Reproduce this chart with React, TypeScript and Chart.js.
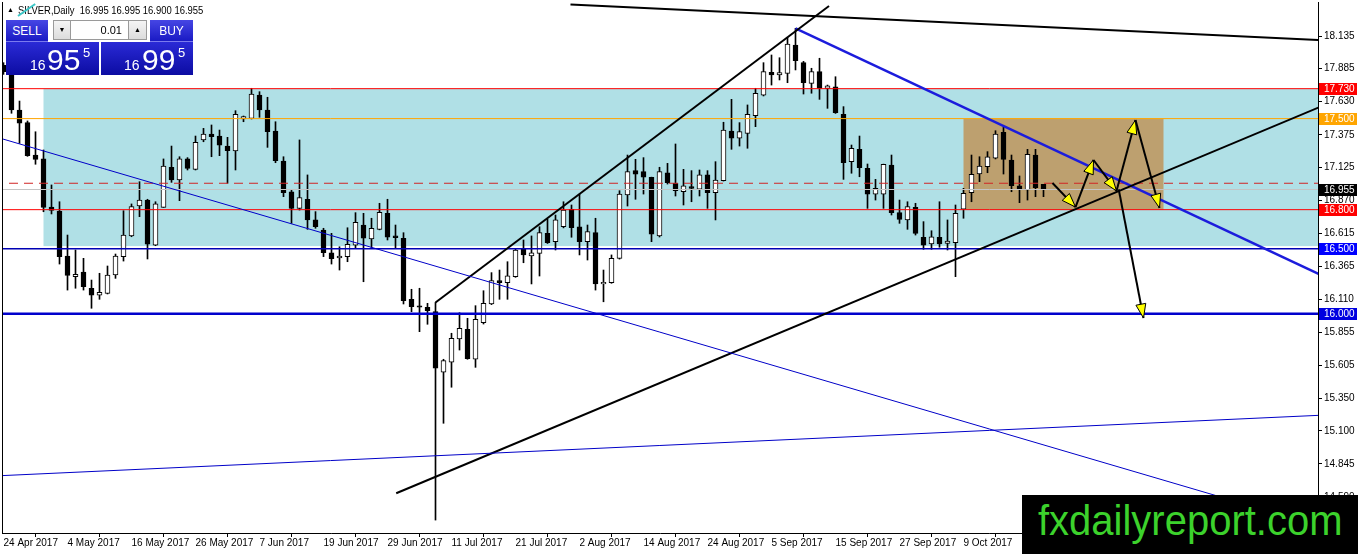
import React, { useEffect, useRef } from "react";
import { Chart, registerables } from "chart.js";

Chart.register(...registerables);

// ---------- DATA ----------
const dateLabels = [
  "24 Apr 2017", "4 May 2017", "16 May 2017", "26 May 2017", "7 Jun 2017",
  "19 Jun 2017", "29 Jun 2017", "11 Jul 2017", "21 Jul 2017", "2 Aug 2017",
  "14 Aug 2017", "24 Aug 2017", "5 Sep 2017", "15 Sep 2017", "27 Sep 2017", "9 Oct 2017",
];

const priceTicks = [
  18.135, 17.885, 17.63, 17.375, 17.125, 16.87, 16.615, 16.365,
  16.11, 15.855, 15.605, 15.35, 15.1, 14.845, 14.59,
];

const opens = [
  17.91, 17.84, 17.566, 17.469, 17.22, 17.19, 16.82, 16.79, 16.444, 16.285,
  16.321, 16.196, 16.142, 16.157, 16.298, 16.439, 16.598, 16.828, 16.874, 16.528,
  16.818, 17.126, 17.028, 17.19, 17.11, 17.336, 17.382, 17.366, 17.289, 17.251,
  17.497, 17.502, 17.681, 17.566, 17.405, 17.174, 16.938, 16.81, 16.88, 16.721,
  16.644, 16.469, 16.429, 16.439, 16.528, 16.682, 16.575, 16.649, 16.772, 16.598,
  16.58, 16.111, 16.06, 16.049, 16.016, 15.55, 15.627, 15.806, 15.88, 15.65,
  15.931, 16.075, 16.254, 16.239, 16.285, 16.503, 16.444, 16.464, 16.618, 16.554,
  16.669, 16.803, 16.669, 16.554, 16.623, 16.229, 16.239, 16.426, 16.913, 17.1,
  17.092, 17.049, 16.598, 17.084, 17.003, 16.938, 16.977, 16.957, 17.067, 16.93,
  17.023, 17.405, 17.349, 17.387, 17.522, 17.681, 17.856, 17.835, 17.848, 18.066,
  17.93, 17.771, 17.861, 17.733, 17.745, 17.533, 17.169, 17.264, 17.118, 16.92,
  16.92, 17.143, 16.777, 16.721, 16.818, 16.588, 16.536, 16.588, 16.541, 16.546,
  16.803, 16.93, 17.074, 17.13, 17.195, 17.395, 17.182, 16.984, 16.951, 17.22,
  16.995,
];
const highs = [
  17.93, 17.88, 17.635, 17.482, 17.399, 17.259, 16.99, 16.861, 16.605, 16.49,
  16.426, 16.259, 16.311, 16.367, 16.459, 16.792, 16.844, 17.015, 16.88, 16.861,
  17.19, 17.289, 17.207, 17.2, 17.366, 17.425, 17.451, 17.412, 17.356, 17.561,
  17.52, 17.733, 17.707, 17.664, 17.476, 17.207, 16.951, 17.336, 17.067, 16.785,
  16.657, 16.618, 16.515, 16.661, 16.777, 16.772, 16.734, 16.849, 16.88, 16.682,
  16.623, 16.188, 16.196, 16.08, 16.087, 15.65, 15.85, 16.008, 15.965, 16.062,
  16.177, 16.316, 16.336, 16.4, 16.503, 16.567, 16.598, 16.669, 16.726, 16.759,
  16.861, 16.836, 16.92, 16.682, 16.734, 16.336, 16.452, 16.946, 17.22, 17.187,
  17.2, 17.05, 17.126, 17.156, 17.305, 17.11, 17.1, 17.105, 17.1, 17.169,
  17.472, 17.648, 17.469, 17.605, 17.733, 17.93, 17.989, 17.968, 18.125, 18.194,
  17.94, 17.887, 17.964, 17.758, 17.822, 17.592, 17.297, 17.366, 17.151, 17.033,
  17.15, 17.22, 16.874, 16.861, 16.849, 16.708, 16.638, 16.861, 16.721, 16.836,
  16.964, 17.22, 17.207, 17.246, 17.407, 17.433, 17.22, 17.059, 17.264, 17.264,
  16.995,
];
const lows = [
  17.84, 17.541, 17.31, 17.21, 17.149, 16.784, 16.767, 16.382, 16.182, 16.196,
  16.182, 16.042, 16.111, 16.152, 16.272, 16.405, 16.592, 16.746, 16.421, 16.523,
  16.818, 17.01, 16.869, 17.105, 17.105, 17.322, 17.207, 17.215, 17.003, 17.105,
  17.476, 17.497, 17.51, 17.279, 17.161, 16.9, 16.695, 16.797, 16.649, 16.657,
  16.439, 16.382, 16.336, 16.4, 16.503, 16.246, 16.503, 16.645, 16.567, 16.503,
  16.075, 16.016, 15.862, 15.919, 14.414, 15.158, 15.435, 15.721, 15.65, 15.588,
  15.921, 16.07, 16.111, 16.111, 16.28, 16.392, 16.229, 16.29, 16.54, 16.49,
  16.66, 16.588, 16.452, 16.413, 16.182, 16.092, 16.234, 16.42, 16.828, 16.88,
  16.92, 16.554, 16.59, 16.997, 16.905, 16.836, 16.861, 16.905, 16.81, 16.721,
  17.02, 17.264, 17.289, 17.272, 17.438, 17.674, 17.758, 17.797, 17.776, 17.874,
  17.689, 17.695, 17.648, 17.579, 17.54, 17.033, 17.08, 17.053, 16.81, 16.874,
  16.81, 16.759, 16.695, 16.649, 16.605, 16.495, 16.495, 16.511, 16.49, 16.285,
  16.734, 16.861, 17.015, 17.084, 17.19, 17.074, 16.938, 16.854, 16.874, 16.9,
  16.9,
];
const closes = [
  17.86, 17.566, 17.464, 17.215, 17.187, 16.818, 16.795, 16.439, 16.295, 16.303,
  16.208, 16.142, 16.165, 16.298, 16.444, 16.605, 16.823, 16.874, 16.534, 16.844,
  17.136, 17.028, 17.19, 17.118, 17.318, 17.382, 17.361, 17.295, 17.253, 17.533,
  17.515, 17.689, 17.566, 17.399, 17.176, 16.93, 16.81, 16.892, 16.721, 16.669,
  16.469, 16.423, 16.444, 16.534, 16.703, 16.58, 16.657, 16.78, 16.588, 16.585,
  16.1, 16.054, 16.05, 16.023, 15.581, 15.639, 15.811, 15.888, 15.654, 15.957,
  16.08, 16.254, 16.239, 16.292, 16.49, 16.452, 16.469, 16.623, 16.546, 16.721,
  16.797, 16.661, 16.554, 16.631, 16.229, 16.242, 16.426, 16.92, 17.092, 17.072,
  17.049, 16.611, 17.092, 17.007, 16.946, 16.984, 16.964, 17.067, 16.93, 17.028,
  17.412, 17.349, 17.4, 17.533, 17.695, 17.861, 17.835, 17.853, 18.073, 17.945,
  17.776, 17.861, 17.733, 17.751, 17.545, 17.161, 17.272, 17.123, 16.92, 16.964,
  17.149, 16.777, 16.726, 16.823, 16.618, 16.528, 16.592, 16.536, 16.559, 16.772,
  16.926, 17.072, 17.136, 17.207, 17.382, 17.187, 16.984, 16.957, 17.226, 16.969,
  16.955,
];

// horizontal levels: resistance 17.730, 17.500, pending 17.003, bid 16.955, 16.800, 16.500, 16.000
const horizontalLevels = [17.73, 17.5, 17.003, 16.955, 16.8, 16.5, 16.0];
// price tags on the axis
const priceTags = [17.73, 17.5, 16.955, 16.8, 16.5, 16.0];
const priceTagText = ["17.730", "17.500", "16.955", "16.800", "16.500", "16.000"];

// trend lines [barStart, priceStart, barEnd, priceEnd]
const trendTop = [70.875, 18.377, 164.4, 18.104];
const channelUpper = [54, 16.087, 103.19, 18.366];
const channelLower = [49.09, 14.62, 164.4, 17.586];
const blueResistance = [99, 18.194, 164.4, 16.305];
const thinBlueDown = [-0.4, 17.349, 164.4, 14.37];
const thinBlueUp = [-0.4, 14.755, 164.4, 15.219];

// zones [barStart, barEnd, priceLow, priceHigh]
const rangeZone = [5, 164.4, 16.52, 17.73];
const targetZone = [120, 145, 16.8, 17.5];

// projected path arrows [barStart, priceStart, barEnd, priceEnd]
const arrowPaths = [
  [131.125, 17.005, 134, 16.82],
  [134, 16.82, 136.25, 17.182],
  [136.25, 17.182, 139.125, 16.944],
  [139.125, 16.944, 141.5, 17.489],
  [141.5, 17.489, 144.5, 16.813],
  [139.4, 16.957, 142.5, 15.967],
];

// ---------- STYLES ----------
const FONT = '"Liberation Sans", Arial, sans-serif';
const levelStyles = [
  { color: "#ff0000", width: 1, dash: [] as number[] },
  { color: "#ffa500", width: 1, dash: [] as number[] },
  { color: "#d02424", width: 1, dash: [9, 6] },
  { color: "#c4c4c4", width: 1, dash: [] as number[] },
  { color: "#ff0000", width: 1, dash: [] as number[] },
  { color: "#0000b4", width: 1.5, dash: [] as number[] },
  { color: "#0000cc", width: 2.5, dash: [] as number[] },
];
const tagColors = ["#ff0000", "#ffa500", "#000000", "#ff0000", "#0000ff", "#0000e0"];

const X_MIN = (2 - 3.5) / 8;
const X_MAX = (1318 - 3.5) / 8;
const pxToPrice = (y: number) => 18.135 - (y - 36) * 0.007687;
const Y_MAX = pxToPrice(2);
const Y_MIN = pxToPrice(533);

function seg(s: number[]) {
  return [
    { x: s[0], y: s[1] },
    { x: s[2], y: s[3] },
  ];
}

const zonePlugin = {
  id: "zones",
  beforeDatasetsDraw(chart: any) {
    const { ctx, chartArea, scales } = chart;
    const x = scales.x;
    const y = scales.y;
    ctx.save();
    ctx.beginPath();
    ctx.rect(chartArea.left, chartArea.top, chartArea.right - chartArea.left, chartArea.bottom - chartArea.top);
    ctx.clip();
    const draw = (z: number[], color: string) => {
      const x0 = x.getPixelForValue(z[0]);
      const x1 = x.getPixelForValue(z[1]);
      const y0 = y.getPixelForValue(z[3]);
      const y1 = y.getPixelForValue(z[2]);
      ctx.fillStyle = color;
      ctx.fillRect(x0, y0, x1 - x0, y1 - y0);
    };
    draw(rangeZone, "#b0e0e6");
    draw(targetZone, "rgb(189,160,111)");
    ctx.restore();
  },
};

const overlayPlugin = {
  id: "overlay",
  afterDatasetsDraw(chart: any) {
    const { ctx, chartArea, scales } = chart;
    const x = scales.x;
    const y = scales.y;
    ctx.save();
    ctx.beginPath();
    ctx.rect(chartArea.left, chartArea.top, chartArea.right - chartArea.left, chartArea.bottom - chartArea.top);
    ctx.clip();
    for (const a of arrowPaths) {
      const x0 = x.getPixelForValue(a[0]);
      const y0 = y.getPixelForValue(a[1]);
      const x1 = x.getPixelForValue(a[2]);
      const y1 = y.getPixelForValue(a[3]);
      ctx.strokeStyle = "#000";
      ctx.lineWidth = 2;
      ctx.beginPath();
      ctx.moveTo(x0, y0);
      ctx.lineTo(x1, y1);
      ctx.stroke();
      const len = Math.hypot(x1 - x0, y1 - y0);
      const dx = (x1 - x0) / len;
      const dy = (y1 - y0) / len;
      const L = 14;
      const W = 5;
      const bx = x1 - dx * L;
      const by = y1 - dy * L;
      ctx.beginPath();
      ctx.moveTo(x1, y1);
      ctx.lineTo(bx - dy * W, by + dx * W);
      ctx.lineTo(bx + dy * W, by - dx * W);
      ctx.closePath();
      ctx.fillStyle = "#ffff00";
      ctx.fill();
      ctx.lineWidth = 1;
      ctx.stroke();
    }
    ctx.restore();
  },
  afterDraw(chart: any) {
    const { ctx, chartArea, scales } = chart;
    const y = scales.y;
    ctx.save();
    ctx.fillStyle = "#000";
    ctx.fillRect(chartArea.left, chartArea.top, 1, chartArea.bottom - chartArea.top);
    ctx.font = `10px ${FONT}`;
    ctx.textBaseline = "middle";
    ctx.textAlign = "left";
    priceTags.forEach((v, k) => {
      const py = Math.round(y.getPixelForValue(v));
      ctx.fillStyle = tagColors[k];
      ctx.fillRect(chartArea.right + 1, py - 6, 38, 12);
      ctx.fillStyle = "#fff";
      ctx.fillText(priceTagText[k], chartArea.right + 6, py + 0.5);
    });
    ctx.restore();
  },
};

const zeroPad = (s: any) => {
  s.paddingTop = 0;
  s.paddingBottom = 0;
  s.paddingLeft = 0;
  s.paddingRight = 0;
};

export default function App() {
  const ref = useRef<HTMLCanvasElement>(null);

  useEffect(() => {
    const canvas = ref.current;
    if (!canvas) return;

    const lineDs = (s: number[], color: string, width: number, dash: number[] = []) => ({
      type: "line" as const,
      data: seg(s),
      borderColor: color,
      borderWidth: width,
      borderDash: dash,
      pointRadius: 0,
      fill: false,
      tension: 0,
      order: 0,
    });

    const levelDatasets = horizontalLevels.map((v, k) => ({
      type: "line" as const,
      data: [
        { x: X_MIN - 1, y: v },
        { x: X_MAX + 1, y: v },
      ],
      borderColor: levelStyles[k].color,
      borderWidth: levelStyles[k].width,
      borderDash: levelStyles[k].dash,
      pointRadius: 0,
      fill: false,
      order: 1,
    }));

    const chart = new Chart(canvas, {
      type: "bar",
      data: {
        datasets: [
          {
            type: "bar",
            data: lows.map((l, i) => ({ x: i, y: [l, highs[i]] })) as any,
            backgroundColor: "#000",
            borderWidth: 0,
            barThickness: 1,
            grouped: false,
            order: 3,
          } as any,
          {
            type: "bar",
            data: opens.map((o, i) => ({ x: i, y: [o, closes[i]] })) as any,
            backgroundColor: opens.map((o, i) => (closes[i] >= o ? "#ffffff" : "#000000")),
            borderColor: "#000",
            borderWidth: 1,
            borderSkipped: false,
            barThickness: 5,
            grouped: false,
            order: 2,
          } as any,
          ...levelDatasets,
          lineDs(thinBlueDown, "#0000c8", 1),
          lineDs(thinBlueUp, "#0000c8", 1),
          lineDs(trendTop, "#000", 2),
          lineDs(channelUpper, "#000", 2),
          lineDs(channelLower, "#000", 2),
          lineDs(blueResistance, "#1c1cdc", 2.5),
        ] as any,
      },
      options: {
        animation: false,
        responsive: false,
        events: [],
        layout: { padding: { left: 2, top: 2, right: 0, bottom: 0 } },
        plugins: { legend: { display: false }, tooltip: { enabled: false } },
        scales: {
          x: {
            type: "linear",
            min: X_MIN,
            max: X_MAX,
            offset: false,
            grid: { drawOnChartArea: false, drawTicks: true, tickLength: 4, color: "#000" },
            border: { display: true, color: "#000", width: 1 },
            ticks: {
              autoSkip: false,
              maxRotation: 0,
              minRotation: 0,
              align: "start",
              padding: 0,
              color: "#000",
              font: { family: FONT, size: 10 },
              callback: (_v: any, idx: number) => dateLabels[idx] ?? "",
            },
            afterBuildTicks: (s: any) => {
              s.ticks = dateLabels.map((_, k) => ({ value: k * 8 }));
            },
            afterFit: (s: any) => {
              s.height = 21;
              zeroPad(s);
            },
          },
          y: {
            type: "linear",
            position: "right",
            min: Y_MIN,
            max: Y_MAX,
            grid: { drawOnChartArea: false, drawTicks: true, tickLength: 4, color: "#000" },
            border: { display: true, color: "#000", width: 1 },
            ticks: {
              padding: 2,
              color: "#000",
              font: { family: FONT, size: 10 },
              callback: (v: any) => Number(v).toFixed(3),
            },
            afterBuildTicks: (s: any) => {
              s.ticks = priceTicks.map((v) => ({ value: v }));
            },
            afterFit: (s: any) => {
              s.width = 40;
              zeroPad(s);
            },
          },
        },
      } as any,
      plugins: [zonePlugin, overlayPlugin],
    });

    return () => chart.destroy();
  }, []);

  const tab: React.CSSProperties = {
    position: "absolute",
    top: 20,
    height: 22,
    background: "linear-gradient(#4646e4, #1a1ac4)",
    color: "#fff",
    fontSize: 12,
    lineHeight: "22px",
    textAlign: "center",
    boxSizing: "border-box",
    borderBottom: "1px solid #7a7aee",
  };
  const block: React.CSSProperties = {
    position: "absolute",
    top: 42,
    height: 33,
    background: "linear-gradient(#2a2ad6, #0c0ca2)",
    color: "#fff",
  };
  const abs = (left: number, top: number, size: number): React.CSSProperties => ({
    position: "absolute",
    left,
    top,
    fontSize: size,
    lineHeight: `${size}px`,
    whiteSpace: "nowrap",
  });
  const smallBtn: React.CSSProperties = {
    position: "absolute",
    top: 20,
    height: 20,
    background: "linear-gradient(#f4f4f4, #dcdcdc)",
    border: "1px solid #9a9a9a",
    boxSizing: "border-box",
    fontSize: 7,
    lineHeight: "18px",
    textAlign: "center",
    color: "#000",
  };

  return (
    <div
      style={{
        position: "fixed",
        left: 0,
        top: 0,
        width: 1358,
        height: 554,
        background: "#fff",
        fontFamily: FONT,
        overflow: "hidden",
      }}
    >
      <canvas ref={ref} width={1358} height={554} style={{ position: "absolute", left: 0, top: 0 }} />

      {/* header */}
      <div style={{ ...abs(7, 6, 7), color: "#000" }}>▲</div>
      <div
        style={{
          ...abs(18, 5, 10.5),
          color: "#000",
          transform: "scaleX(0.9)",
          transformOrigin: "0 50%",
        }}
      >
        SILVER,Daily&nbsp; 16.995 16.995 16.900 16.955
      </div>
      <div
        style={{
          position: "absolute",
          left: 18,
          top: 15,
          width: 21,
          height: 2,
          background: "#3cc8c8",
          transform: "rotate(-35deg)",
          transformOrigin: "0 50%",
        }}
      />

      {/* trade panel */}
      <div style={{ ...tab, left: 6, width: 42 }}>SELL</div>
      <div style={{ ...smallBtn, left: 53, width: 18 }}>▼</div>
      <div
        style={{
          position: "absolute",
          left: 71,
          top: 20,
          width: 57,
          height: 20,
          background: "#fff",
          borderTop: "1px solid #9a9a9a",
          borderBottom: "1px solid #9a9a9a",
          boxSizing: "border-box",
          fontSize: 11,
          lineHeight: "18px",
          textAlign: "right",
          paddingRight: 6,
          color: "#000",
        }}
      >
        0.01
      </div>
      <div style={{ ...smallBtn, left: 128, width: 19 }}>▲</div>
      <div style={{ ...tab, left: 150, width: 43 }}>BUY</div>

      <div style={{ ...block, left: 6, width: 93 }}>
        <span style={abs(24, 16, 14)}>16</span>
        <span style={abs(41, 2.6, 30)}>95</span>
        <span style={abs(77, 3.8, 13)}>5</span>
      </div>
      <div style={{ ...block, left: 101, width: 92 }}>
        <span style={abs(23, 16, 14)}>16</span>
        <span style={abs(41, 2.6, 30)}>99</span>
        <span style={abs(77, 3.8, 13)}>5</span>
      </div>

      {/* logo */}
      <div
        style={{
          position: "absolute",
          left: 1022,
          top: 495,
          width: 336,
          height: 59,
          background: "#000",
          overflow: "hidden",
        }}
      >
        <span
          style={{
            position: "absolute",
            left: 16,
            top: 3.6,
            fontSize: 43,
            lineHeight: "43px",
            color: "#3cd22c",
            whiteSpace: "nowrap",
            transform: "scaleX(0.93)",
            transformOrigin: "0 50%",
          }}
        >
          fxdailyreport.com
        </span>
      </div>
    </div>
  );
}
